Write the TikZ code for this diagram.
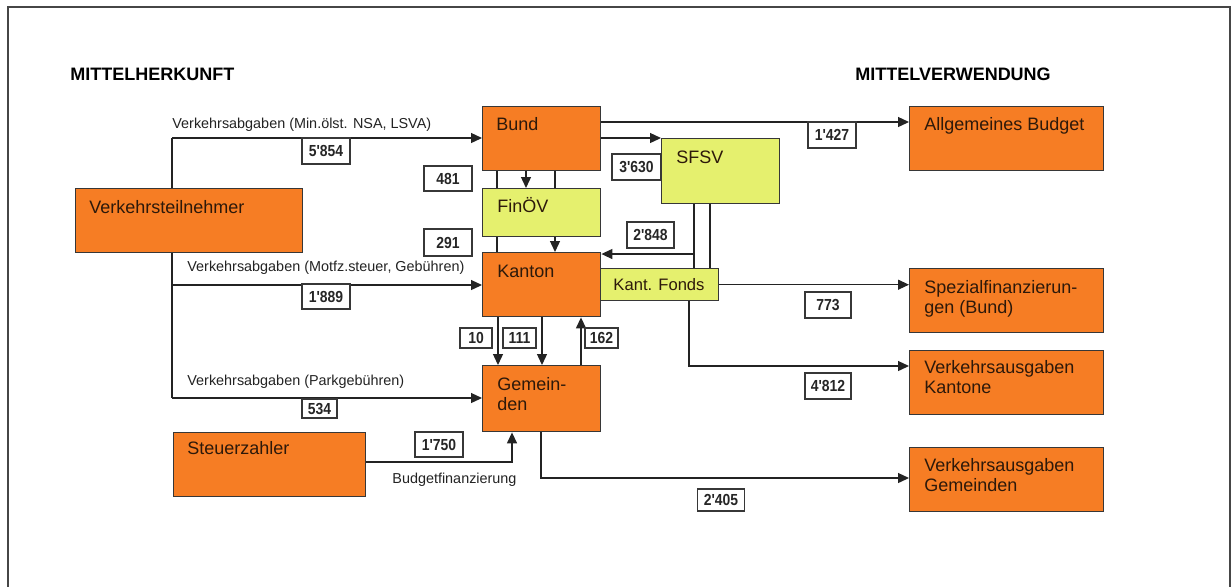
\documentclass[tikz,border=0pt]{standalone}
\usepackage{fontspec}
\setmainfont{Liberation Sans}
\newfontfamily\numfont[FakeStretch=0.87]{Liberation Sans}
\usetikzlibrary{arrows.meta}
\definecolor{orng}{RGB}{246,125,36}
\definecolor{ylw}{RGB}{229,240,110}
\definecolor{edge}{RGB}{55,55,55}
\definecolor{lnc}{RGB}{35,35,35}
\definecolor{txt}{RGB}{45,25,10}
\definecolor{frm}{RGB}{70,70,70}
\begin{document}
\begin{tikzpicture}[x=0.5pt,y=-0.5pt,
  box/.style={draw=edge, line width=0.7pt, anchor=north west, inner sep=0pt},
  obox/.style={box, fill=orng},
  ybox/.style={box, fill=ylw},
  btxt/.style={anchor=base west, inner sep=0pt, font=\fontsize{9}{10}\selectfont, text=txt},
  ltxt/.style={anchor=base west, inner sep=0pt, font=\fontsize{7.2}{8}\selectfont, text=lnc},
  htxt/.style={anchor=base west, inner sep=0pt, font=\bfseries\fontsize{9}{10}\selectfont, text=black},
  num/.style={draw=edge, fill=white, line width=0.6pt, inner sep=0pt, font=\numfont\bfseries\fontsize{8}{9}\selectfont, text=black!85},
  ln/.style={draw=lnc, line width=0.65pt},
  arr/.style={ln, -{Triangle[length=5.5pt,width=5pt]}}
]
\useasboundingbox (0,0) rectangle (1232,586);
\fill[white] (0,0) rectangle (1232,586);
\draw[frm, line width=1.3pt] (8,590) -- (8,7) -- (1230,7) -- (1230,590);

% headers
\node[htxt] (hl) at (70,80) {MITTELHERKUNFT};
\node[htxt] (hr) at (855,80) {MITTELVERWENDUNG};

% boxes
\node[obox, minimum width=113.5pt, minimum height=32pt] (vt) at (75,188) {};
\node[obox, minimum width=59pt, minimum height=32pt] (bund) at (482,106) {};
\node[ybox, minimum width=59pt, minimum height=24pt] (fin) at (482,188) {};
\node[ybox, minimum width=59pt, minimum height=32.5pt] (sfsv) at (661,138) {};
\node[obox, minimum width=59pt, minimum height=32pt] (kanton) at (482,252) {};
\node[ybox, minimum width=59pt, minimum height=16pt] (fonds) at (600,268) {};
\node[obox, minimum width=59pt, minimum height=33pt] (gem) at (482,365) {};
\node[obox, minimum width=96pt, minimum height=32pt] (steuer) at (173,432) {};
\node[obox, minimum width=97pt, minimum height=32pt] (allg) at (909,106) {};
\node[obox, minimum width=97pt, minimum height=32pt] (spez) at (909,268) {};
\node[obox, minimum width=97pt, minimum height=32pt] (vka) at (909,350) {};
\node[obox, minimum width=97pt, minimum height=32pt] (vkg) at (909,447) {};

% box texts
\node[btxt] (vtT) at (89,213) {Verkehrsteilnehmer};
\node[btxt] (bundT) at (496,130) {Bund};
\node[btxt] (finT) at (497,212) {FinÖV};
\node[btxt] (sfsvT) at (676,163) {SFSV};
\node[btxt] (kanT) at (497,277) {Kanton};
\node[btxt, anchor=base, font=\fontsize{8.3}{9}\selectfont] (fondsT) at (659,290) {Kant. Fonds};
\node[btxt] (gemT1) at (497,390) {Gemein-};
\node[btxt] (gemT2) at (497,410) {den};
\node[btxt] (stT) at (187,454) {Steuerzahler};
\node[btxt] (allgT) at (924,130) {Allgemeines Budget};
\node[btxt] (spezT1) at (924,293) {Spezialfinanzierun-};
\node[btxt] (spezT2) at (924,313) {gen (Bund)};
\node[btxt] (vkaT1) at (924,373) {Verkehrsausgaben};
\node[btxt] (vkaT2) at (924,393) {Kantone};
\node[btxt] (vkgT1) at (924,471) {Verkehrsausgaben};
\node[btxt] (vkgT2) at (924,491) {Gemeinden};

% flow labels
\node[ltxt] (l1) at (172,128) {Verkehrsabgaben (Min.ölst. NSA, LSVA)};
\node[ltxt] (l2) at (187,271) {Verkehrsabgaben (Motfz.steuer, Gebühren)};
\node[ltxt] (l3) at (187,385) {Verkehrsabgaben (Parkgebühren)};
\node[ltxt] (l4) at (392,483) {Budgetfinanzierung};

% trunk from Verkehrsteilnehmer
\coordinate (t1) at (172,138);
\coordinate (t2) at (172,285);
\coordinate (t3) at (172,398);
\draw[ln] (t1) -- (t1 |- vt.north);
\draw[ln] (t1 |- vt.south) -- (t3);
\draw[arr] (t1) -- (t1 -| bund.west);
\draw[arr] (t2) -- (t2 -| kanton.west);
\draw[arr] (t3) -- (t3 -| gem.west);

% Bund outputs
\coordinate (b1) at ([yshift=-8pt]bund.north east);
\coordinate (b2) at ([yshift=-16pt]bund.north east);
\draw[arr] (b1) -- (b1 -| allg.west);
\draw[arr] (b2) -- (b2 -| sfsv.west);
\coordinate (bx1) at ([xshift=7.5pt]bund.south west);
\coordinate (bx2) at ([xshift=22pt]bund.south west);
\coordinate (bx3) at ([xshift=36.5pt]bund.south west);
\draw[ln] (bx1) -- (bx1 |- fin.north);
\draw[ln] (bx1 |- fin.south) -- (bx1 |- kanton.north);
\draw[arr] (bx2) -- (bx2 |- fin.north);
\draw[ln] (bx3) -- (bx3 |- fin.north);
\draw[arr] (bx3 |- fin.south) -- (bx3 |- kanton.north);

% SFSV outputs
\coordinate (s1) at ([xshift=16.5pt]sfsv.south west);
\coordinate (s2) at ([xshift=24.5pt]sfsv.south west);
\draw[ln] (s1) -- (s1 |- fonds.north);
\draw[ln] (s2) -- (s2 |- fonds.north);
\coordinate (kin) at ([yshift=-1pt]kanton.north east);
\draw[arr] (kin -| s1) -- (kin);

% Kant. Fonds outputs
\draw[arr] (fonds.east) -- (fonds.east -| spez.west);
\coordinate (f1) at ([xshift=44.5pt]fonds.south west);
\coordinate (f2) at ([yshift=-8pt]vka.north west);
\draw[arr] (f1) |- (f2);

% Kanton <-> Gemeinden
\coordinate (k1) at ([xshift=8pt]kanton.south west);
\coordinate (k2) at ([xshift=30pt]kanton.south west);
\coordinate (k3) at ([xshift=49.5pt]kanton.south west);
\draw[arr] (k1) -- (k1 |- gem.north);
\draw[arr] (k2) -- (k2 |- gem.north);
\draw[arr] (k3 |- gem.north) -- (k3);

% Steuerzahler -> Gemeinden
\coordinate (st1) at ([yshift=-15pt]steuer.north east);
\coordinate (g1) at ([xshift=15pt]gem.south west);
\draw[arr] (st1) -| (g1);

% Gemeinden -> Verkehrsausgaben Gemeinden
\coordinate (g2) at ([xshift=29.5pt]gem.south west);
\coordinate (v1) at ([yshift=-15.5pt]vkg.north west);
\draw[arr] (g2) |- (v1);

% number boxes
\node[num, minimum width=24pt, minimum height=13pt] (n5854) at (326,151) {5'854};
\node[num, minimum width=24pt, minimum height=12.5pt] (n481) at (448,178.5) {481};
\node[num, minimum width=24pt, minimum height=13.5pt] (n291) at (448,242.5) {291};
\node[num, minimum width=24pt, minimum height=12.5pt] (n1889) at (326,296.5) {1'889};
\node[num, minimum width=17.5pt, minimum height=9.5pt] (n534) at (319.5,408.5) {534};
\node[num, minimum width=24.5pt, minimum height=13pt] (n3630) at (636.5,167) {3'630};
\node[num, minimum width=23.5pt, minimum height=13pt] (n2848) at (650.5,235) {2'848};
\node[num, minimum width=24pt, minimum height=13pt] (n1427) at (832,135) {1'427};
\node[num, minimum width=16pt, minimum height=10pt] (n10) at (476,338) {10};
\node[num, minimum width=16.5pt, minimum height=10pt] (n111) at (519.5,338) {111};
\node[num, minimum width=16.5pt, minimum height=10pt] (n162) at (601.5,338) {162};
\node[num, minimum width=24pt, minimum height=12.5pt] (n1750) at (439,444.5) {1'750};
\node[num, minimum width=23pt, minimum height=13pt] (n773) at (828,305) {773};
\node[num, minimum width=23pt, minimum height=13pt] (n4812) at (828,386) {4'812};
\node[num, minimum width=23.5pt, minimum height=11pt] (n2405) at (721,500) {2'405};
\end{tikzpicture}
\end{document}
